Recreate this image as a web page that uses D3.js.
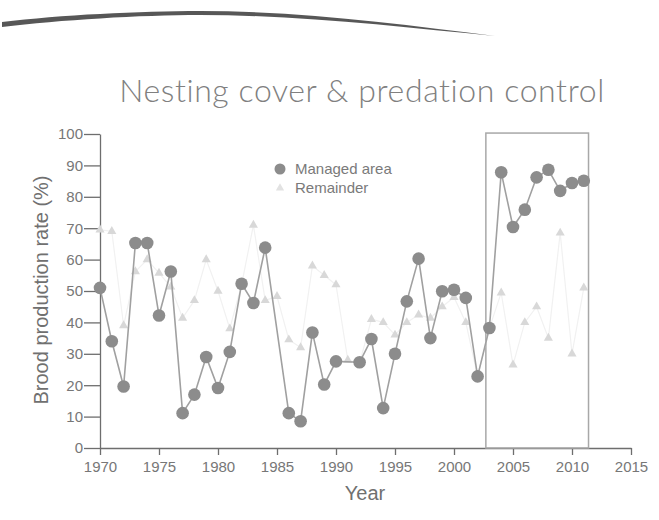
<!DOCTYPE html>
<html>
<head>
<meta charset="utf-8">
<script src="https://cdn.jsdelivr.net/npm/d3@7"></script>
<style>
  body { margin: 0; background: #fff; }
  #chart { width: 659px; height: 520px; }
  .axis path, .axis line { stroke: #6e6e6e; stroke-width: 1.3; }
  .axis text { fill: #777; font-family: "Liberation Sans", Arial, sans-serif; font-size: 15px; }
</style>
</head>
<body>
<div id="chart"></div>
<script>
// years and the two series
const years = d3.range(1970, 2012);
const managed = [51, 34, 19.6, 65.3, 65.3, 42.2, 56.2, 11.1, 17, 29,
  19.1, 30.6, 52.3, 46.2, 63.8, null, 11.1, 8.5, 36.8, 20.2,
  27.6, null, 27.3, 34.7, 12.7, 30, 46.7, 60.3, 35, 49.9,
  50.4, 47.8, 22.8, 38.2, 87.8, 70.4, 75.9, 86.2, 88.6, 81.9,
  84.4, 85.1];
const remainder = [69.5, 69, 39, 56.2, 60, 55.7, 51.3, 41.4, 47, 60,
  50, 38, 52, 71, 47, 48.3, 34.5, 32, 58, 55,
  52, 28, 27, 41, 40, 36, 40, 42.4, 41.4, 45,
  48, 40, 22.8, 38.2, 49.4, 26.5, 40, 45, 35, 68.5,
  30, 51];
const yTicks = d3.range(0, 101, 10);
const xTicks = d3.range(1970, 2016, 5);
const boxYears = [2002.7, 2011.4];

const container = document.getElementById("chart");
const svg = d3.select(container).append("svg")
  .attr("width", 659).attr("height", 520);

// decorative swoosh at the top
svg.append("path")
  .attr("d", "M2,22 C60,15 140,11 200,11 C300,11 400,24 495,36 C400,27 300,15 200,15 C140,15 60,20 2,27 Z")
  .attr("fill", "#3a3a3a").attr("opacity", 0.85);

svg.append("text")
  .attr("x", 362).attr("y", 102)
  .attr("text-anchor", "middle")
  .attr("font-family", "Lato, 'Open Sans', sans-serif")
  .attr("font-weight", 300)
  .attr("font-size", 32)
  .attr("letter-spacing", 0.6)
  .attr("fill", "#808080")
  .text("Nesting cover & predation control");

const x = d3.scaleLinear().domain([1970, 2015]).range([100, 631]);
const y = d3.scaleLinear().domain([0, 100]).range([448, 134]);

// axes
svg.append("g").attr("class", "axis")
  .attr("transform", "translate(0,448)")
  .call(d3.axisBottom(x).tickValues(xTicks).tickFormat(d3.format("d")).tickSize(7).tickPadding(6).tickSizeOuter(0));

svg.append("g").attr("class", "axis")
  .attr("transform", "translate(100,0)")
  .call(d3.axisLeft(y).tickValues(yTicks).tickSize(16).tickPadding(1).tickSizeOuter(0));

svg.append("text")
  .attr("x", 365).attr("y", 500)
  .attr("text-anchor", "middle")
  .attr("font-family", "Liberation Sans, Arial, sans-serif")
  .attr("font-size", 20).attr("fill", "#707070")
  .text("Year");

svg.append("text")
  .attr("transform", "translate(48,290) rotate(-90)")
  .attr("text-anchor", "middle")
  .attr("font-family", "Liberation Sans, Arial, sans-serif")
  .attr("font-size", 20).attr("fill", "#707070")
  .text("Brood production rate (%)");

// highlight box
svg.append("rect")
  .attr("x", x(boxYears[0])).attr("y", y(100.3))
  .attr("width", x(boxYears[1]) - x(boxYears[0]))
  .attr("height", y(0) - y(100.3))
  .attr("fill", "none").attr("stroke", "#a8a8a8").attr("stroke-width", 1.5);

// remainder series (very faint)
const remData = years.map((yr, i) => ({ yr, v: remainder[i] }));
svg.append("path").datum(remData)
  .attr("d", d3.line().x(d => x(d.yr)).y(d => y(d.v)))
  .attr("fill", "none").attr("stroke", "#f1f1f1").attr("stroke-width", 1.2);
svg.selectAll(".tri").data(remData).join("path")
  .attr("class", "tri")
  .attr("transform", d => `translate(${x(d.yr)},${y(d.v)})`)
  .attr("d", d3.symbol(d3.symbolTriangle, 36))
  .attr("fill", "#d8d8d8");

// managed area series
const manData = years.map((yr, i) => ({ yr, v: managed[i] })).filter(d => d.v != null);
svg.append("path").datum(manData)
  .attr("d", d3.line().x(d => x(d.yr)).y(d => y(d.v)))
  .attr("fill", "none").attr("stroke", "#a0a0a0").attr("stroke-width", 1.6);
svg.selectAll(".dot").data(manData).join("circle")
  .attr("class", "dot")
  .attr("cx", d => x(d.yr)).attr("cy", d => y(d.v))
  .attr("r", 6.3).attr("fill", "#8c8c8c");

// legend
svg.append("circle").attr("cx", 280).attr("cy", 169).attr("r", 5.5).attr("fill", "#8c8c8c");
svg.append("path").attr("transform", "translate(280,188)")
  .attr("d", d3.symbol(d3.symbolTriangle, 30)).attr("fill", "#e2e2e2");
svg.append("text").attr("x", 295).attr("y", 174)
  .attr("font-family", "Liberation Sans, Arial, sans-serif")
  .attr("font-size", 15).attr("fill", "#7a7a7a").text("Managed area");
svg.append("text").attr("x", 295).attr("y", 193)
  .attr("font-family", "Liberation Sans, Arial, sans-serif")
  .attr("font-size", 15).attr("fill", "#7a7a7a").text("Remainder");
</script>
</body>
</html>
